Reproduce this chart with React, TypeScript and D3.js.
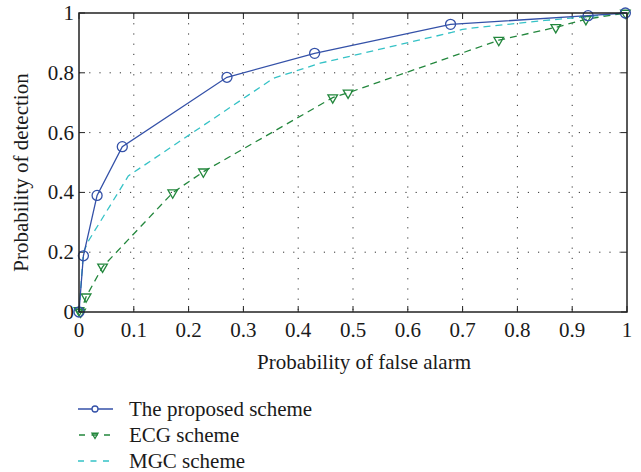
import * as d3 from 'd3';

const W = 641;
const H = 472;
const M = { left: 79, right: 14, top: 13, bottom: 160 };

// Probability of false alarm / detection pairs
const proposedX = [0, 0.008, 0.033, 0.079, 0.27, 0.43, 0.678, 0.929, 0.997];
const proposedY = [0, 0.188, 0.39, 0.553, 0.785, 0.865, 0.962, 0.991, 1];

const ecgX = [0, 0.003, 0.013, 0.043, 0.171, 0.227, 0.463, 0.491, 0.766, 0.87, 0.925, 0.997];
const ecgY = [0.005, 0, 0.051, 0.151, 0.399, 0.469, 0.717, 0.733, 0.909, 0.952, 0.979, 1];

const mgcX = [0, 0.008, 0.018, 0.09, 0.355, 0.44, 0.68, 0.7, 0.72, 0.85, 1];
const mgcY = [0, 0.2, 0.24, 0.455, 0.782, 0.832, 0.935, 0.945, 0.95, 0.975, 1];

const xTicks = [0, 0.1, 0.2, 0.3, 0.4, 0.5, 0.6, 0.7, 0.8, 0.9, 1];
const yTicks = [0, 0.2, 0.4, 0.6, 0.8, 1];

const legendLabels = ['The proposed scheme', 'ECG scheme', 'MGC scheme'];

const BLUE = '#3451a8';
const GREEN = '#23873d';
const CYAN = '#35c2c6';
const INK = '#1a1a1a';
const FONT = "'Liberation Serif', 'DejaVu Serif', serif";
const FS = 21;

const zip = (xs: number[], ys: number[]) => xs.map((x, i) => [x, ys[i]] as [number, number]);

export default function App() {
  const x = d3.scaleLinear().domain([0, 1]).range([M.left, W - M.right]);
  const y = d3.scaleLinear().domain([0, 1]).range([H - M.bottom, M.top]);
  const line = d3.line<[number, number]>().x(d => x(d[0])).y(d => y(d[1]));

  const proposed = zip(proposedX, proposedY);
  const ecg = zip(ecgX, ecgY);
  const mgc = zip(mgcX, mgcY);

  const tri = d3.symbol().type(d3.symbolTriangle).size(40)();
  const triSmall = d3.symbol().type(d3.symbolTriangle).size(16)();

  const x0 = x(0), x1 = x(1), y0 = y(0), y1 = y(1);
  const tickLen = 6;
  const fmt = d3.format('~g');

  return (
    <svg width={W} height={H}
      style={{ position: 'absolute', left: 0, top: 0, background: '#fff', fontFamily: FONT }}>
      {/* grid */}
      {xTicks.slice(1, -1).map(t => (
        <line key={'gx' + t} x1={x(t)} x2={x(t)} y1={y1} y2={y0}
          stroke="#333" strokeWidth={1} strokeDasharray="1.2,9" />
      ))}
      {yTicks.slice(1, -1).map(t => (
        <line key={'gy' + t} x1={x0} x2={x1} y1={y(t)} y2={y(t)}
          stroke="#333" strokeWidth={1} strokeDasharray="1.2,9" />
      ))}

      {/* ticks on all sides */}
      {xTicks.map(t => (
        <g key={'tx' + t} stroke="#222" strokeWidth={1}>
          <line x1={x(t)} x2={x(t)} y1={y0} y2={y0 - tickLen} />
          <line x1={x(t)} x2={x(t)} y1={y1} y2={y1 + tickLen} />
        </g>
      ))}
      {yTicks.map(t => (
        <g key={'ty' + t} stroke="#222" strokeWidth={1}>
          <line x1={x0} x2={x0 + tickLen} y1={y(t)} y2={y(t)} />
          <line x1={x1} x2={x1 - tickLen} y1={y(t)} y2={y(t)} />
        </g>
      ))}

      {/* series */}
      <path d={line(mgc) ?? ''} fill="none" stroke={CYAN} strokeWidth={1.3} strokeDasharray="7,5" />
      <path d={line(ecg) ?? ''} fill="none" stroke={GREEN} strokeWidth={1.3} strokeDasharray="7,5" />
      {ecg.map((d, i) => (
        <path key={'e' + i} d={tri ?? ''} transform={`translate(${x(d[0])},${y(d[1])}) rotate(180)`}
          fill="none" stroke={GREEN} strokeWidth={1.3} />
      ))}
      <path d={line(proposed) ?? ''} fill="none" stroke={BLUE} strokeWidth={1.3} />
      {proposed.map((d, i) => (
        <circle key={'p' + i} cx={x(d[0])} cy={y(d[1])} r={5} fill="none" stroke={BLUE} strokeWidth={1.3} />
      ))}

      {/* axes box */}
      <rect x={x0} y={y1} width={x1 - x0} height={y0 - y1} fill="none" stroke="#222" strokeWidth={1.5} />

      {/* tick labels */}
      {xTicks.map(t => (
        <text key={'lx' + t} x={x(t)} y={y0 + 25} textAnchor="middle" fontSize={FS} fill={INK}>{fmt(t)}</text>
      ))}
      {yTicks.map(t => (
        <text key={'ly' + t} x={x0 - 5} y={y(t) + 7} textAnchor="end" fontSize={FS} fill={INK}>{fmt(t)}</text>
      ))}

      {/* axis titles */}
      <text x={364} y={369} textAnchor="middle" fontSize={FS} fill={INK}>Probability of false alarm</text>
      <text transform={`translate(28,${(y0 + y1) / 2 + 10}) rotate(-90)`} textAnchor="middle" fontSize={FS} fill={INK}>
        Probability of detection
      </text>

      {/* legend */}
      {legendLabels.map((label, i) => {
        const ly = 409 + i * 26;
        return (
          <g key={label}>
            {i === 0 && (
              <g>
                <line x1={78} x2={113} y1={ly} y2={ly} stroke={BLUE} strokeWidth={1.3} />
                <circle cx={95} cy={ly} r={3} fill="#fff" stroke={BLUE} strokeWidth={1.3} />
              </g>
            )}
            {i === 1 && (
              <g>
                <line x1={78} x2={113} y1={ly} y2={ly} stroke={GREEN} strokeWidth={1.3} strokeDasharray="6,6.5" strokeDashoffset={-1} />
                <path d={triSmall ?? ''} transform={`translate(95,${ly}) rotate(180)`} fill="none" stroke={GREEN} strokeWidth={1.3} />
              </g>
            )}
            {i === 2 && (
              <line x1={78} x2={113} y1={ly} y2={ly} stroke={CYAN} strokeWidth={1.3} strokeDasharray="6,6.5" />
            )}
            <text x={129} y={ly + 7} fontSize={FS} fill={INK}>{label}</text>
          </g>
        );
      })}
    </svg>
  );
}
